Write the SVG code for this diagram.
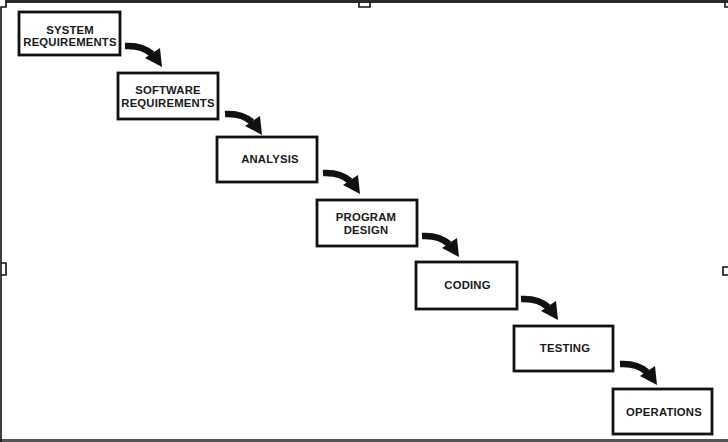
<svg xmlns="http://www.w3.org/2000/svg" width="728" height="442" viewBox="0 0 728 442">
<style>
.box{fill:#fff;stroke:#111;stroke-width:2.8}
.t{font-family:"Liberation Sans",Arial,sans-serif;font-weight:bold;font-size:11.3px;fill:#1a1a1a;text-anchor:middle;letter-spacing:0.2px}
.frame{fill:none;stroke:#111;stroke-width:1.6}
</style>
<defs>
<g id="arr">
<path d="M0,0 Q17,-1 27,8" fill="none" stroke="#111" stroke-width="6.5"/>
<polygon points="37,21 20,12 35,2" fill="#111"/>
</g>
</defs>
<rect width="728" height="442" fill="#fff"/>
<g id="frame">
<rect x="5" y="0" width="723" height="3" fill="#2a2a2a"/>
<rect x="0" y="439" width="728" height="3" fill="#555"/>
<path class="frame" d="M1,442 V7 H6 V2"/>
<path class="frame" d="M1,263 H6 V275 H1"/>
<path class="frame" d="M359,2 V7 H370 V2"/>
<path class="frame" d="M725,2 V7 H728"/>
<path class="frame" d="M728,267 H723 V275 H728"/>
</g>
<g id="connectors">
<use href="#arr" transform="translate(125,46)"/>
<use href="#arr" transform="translate(225,114)"/>
<use href="#arr" transform="translate(323,173)"/>
<use href="#arr" transform="translate(422,236)"/>
<use href="#arr" transform="translate(521,299)"/>
<use href="#arr" transform="translate(620,364)"/>
</g>
<g id="n1"><rect class="box" x="19" y="12" width="101" height="43"/><text class="t" x="70" y="34">SYSTEM</text><text class="t" x="70" y="46">REQUIREMENTS</text></g>
<g id="n2"><rect class="box" x="118" y="73" width="100" height="46"/><text class="t" x="168" y="94">SOFTWARE</text><text class="t" x="168" y="107">REQUIREMENTS</text></g>
<g id="n3"><rect class="box" x="217" y="137" width="100" height="45"/><text class="t" x="270" y="163">ANALYSIS</text></g>
<g id="n4"><rect class="box" x="317" y="200" width="100" height="46"/><text class="t" x="366" y="221">PROGRAM</text><text class="t" x="366" y="234">DESIGN</text></g>
<g id="n5"><rect class="box" x="416" y="262" width="101" height="47"/><text class="t" x="467.5" y="289">CODING</text></g>
<g id="n6"><rect class="box" x="514" y="326" width="99" height="45"/><text class="t" x="565" y="352">TESTING</text></g>
<g id="n7"><rect class="box" x="613" y="389" width="99" height="45"/><text class="t" x="664" y="416">OPERATIONS</text></g>
</svg>
